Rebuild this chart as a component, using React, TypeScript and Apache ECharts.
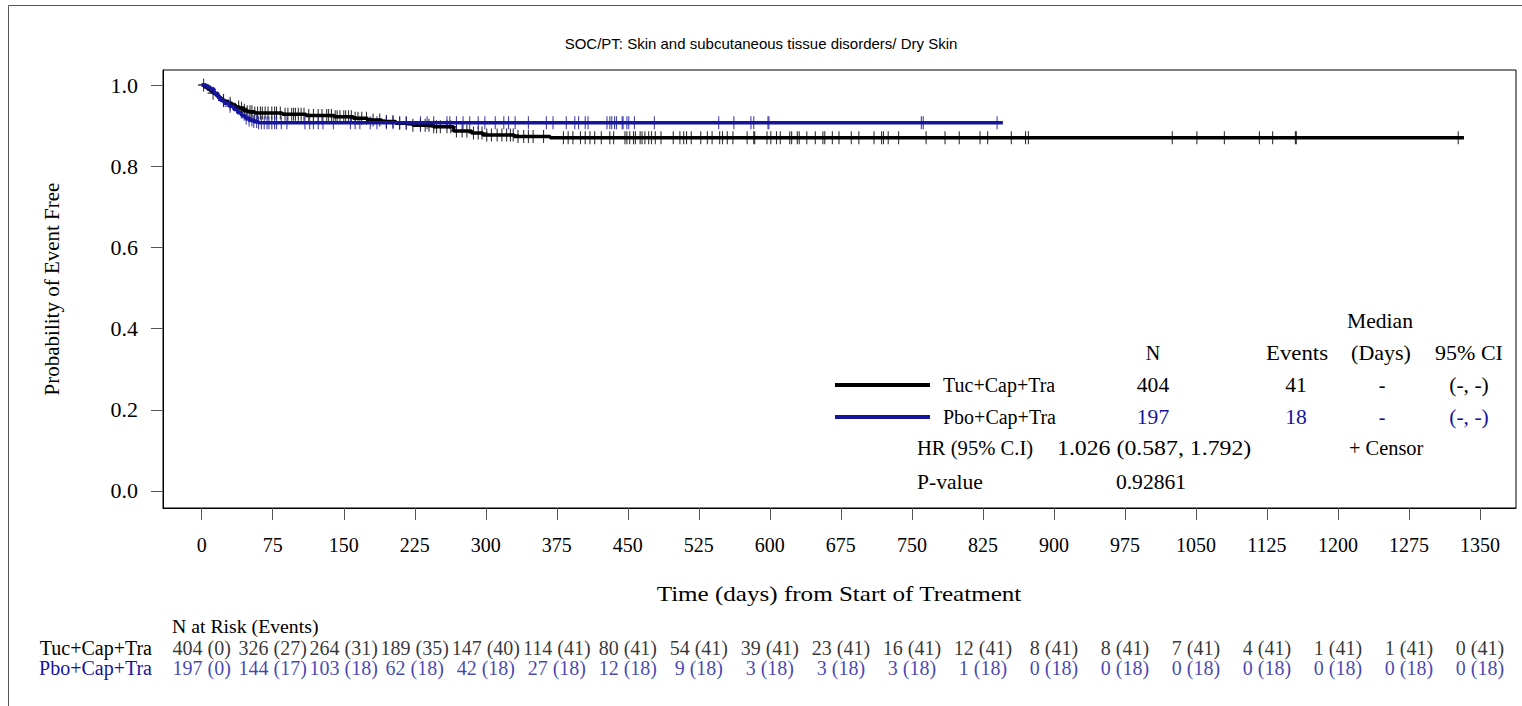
import React, { useEffect, useRef } from "react";
import * as echarts from "echarts";

const titleText = "SOC/PT: Skin and subcutaneous tissue disorders/ Dry Skin";
const groups = ["Tuc+Cap+Tra", "Pbo+Cap+Tra"];
const groupColors = ["#000000", "#14149c"];

const xTicks = [0, 75, 150, 225, 300, 375, 450, 525, 600, 675, 750, 825, 900, 975, 1050, 1125, 1200, 1275, 1350];
const yTicks = [0, 0.2, 0.4, 0.6, 0.8, 1.0];

// Tuc+Cap+Tra Kaplan-Meier steps (time of drop, survival after drop)
const tucTimes = [0, 3, 6, 9, 12, 15, 18, 21, 25, 28, 32, 36, 40, 44, 48, 56, 85, 110, 140, 160, 175, 190, 205, 223, 245, 266, 285, 297, 330, 368];
const tucSurv = [1.0, 0.995, 0.99, 0.985, 0.98, 0.975, 0.968, 0.962, 0.958, 0.955, 0.95, 0.946, 0.943, 0.938, 0.934, 0.931, 0.928, 0.925, 0.922, 0.918, 0.914, 0.91, 0.906, 0.901, 0.897, 0.887, 0.882, 0.877, 0.873, 0.87];
const tucEnd = 1333;
const tucCensor = [2, 12, 23, 30, 39, 42, 45, 48, 51, 53, 56, 59, 62, 64, 67, 70, 74, 77, 79, 83, 88, 91, 95, 97, 99, 102, 105, 108, 113, 118, 123, 127, 132, 134, 137, 141, 143, 146, 150, 152, 155, 158, 162, 165, 169, 174, 181, 188, 195, 202, 209, 216, 223, 231, 236, 240, 245, 248, 252, 259, 263, 269, 275, 280, 287, 292, 296, 301, 306, 312, 317, 322, 326, 329, 334, 340, 345, 350, 361, 382, 387, 392, 400, 405, 410, 415, 422, 431, 435, 447, 449, 452, 456, 458, 463, 465, 468, 472, 475, 479, 485, 498, 505, 509, 512, 517, 527, 534, 539, 547, 550, 555, 561, 576, 583, 584, 597, 601, 607, 611, 621, 623, 629, 631, 639, 648, 656, 658, 666, 673, 686, 694, 710, 718, 720, 725, 736, 765, 785, 800, 822, 830, 855, 870, 873, 1025, 1051, 1080, 1117, 1131, 1155, 1156, 1327];

// Pbo+Cap+Tra Kaplan-Meier steps
const pboTimes = [0, 5, 9, 13, 17, 20, 24, 29, 34, 38, 42, 46, 50, 55, 60];
const pboSurv = [1.0, 0.995, 0.99, 0.98, 0.97, 0.962, 0.955, 0.948, 0.94, 0.932, 0.925, 0.919, 0.914, 0.91, 0.907];
const pboEnd = 846;
const pboCensor = [23, 30, 47, 50, 53, 55, 58, 60, 63, 66, 69, 71, 74, 77, 79, 84, 90, 109, 114, 118, 123, 128, 139, 157, 162, 167, 178, 185, 195, 202, 209, 216, 231, 238, 245, 259, 262, 269, 276, 283, 292, 299, 310, 319, 324, 331, 345, 364, 371, 385, 394, 398, 405, 408, 428, 431, 433, 436, 438, 444, 445, 449, 451, 457, 478, 546, 562, 580, 583, 598, 599, 760, 762, 840];

// Number at risk (events) at each x tick
const tucAtRisk = [404, 326, 264, 189, 147, 114, 80, 54, 39, 23, 16, 12, 8, 8, 7, 4, 1, 1, 0];
const tucAtRiskEvents = [0, 27, 31, 35, 40, 41, 41, 41, 41, 41, 41, 41, 41, 41, 41, 41, 41, 41, 41];
const pboAtRisk = [197, 144, 103, 62, 42, 27, 12, 9, 3, 3, 3, 1, 0, 0, 0, 0, 0, 0, 0];
const pboAtRiskEvents = [0, 17, 18, 18, 18, 18, 18, 18, 18, 18, 18, 18, 18, 18, 18, 18, 18, 18, 18];

// Summary table
const legendN = ["404", "197"];
const legendEvents = ["41", "18"];
const legendMedian = ["-", "-"];
const legendCI = ["(-, -)", "(-, -)"];
const hrValue = "1.026 (0.587, 1.792)";
const pValue = "0.92861";

const SERIF = "'Liberation Serif', 'Times New Roman', Times, serif";
const SANS = "'Liberation Sans', Arial, Helvetica, sans-serif";

function survAt(times: number[], surv: number[], t: number) {
  let s = surv[0];
  for (let i = 0; i < times.length; i++) {
    if (times[i] <= t) s = surv[i];
  }
  return s;
}

function kmLine(times: number[], surv: number[], end: number) {
  const d = times.map((t, i) => [t, surv[i]]);
  d.push([end, surv[surv.length - 1]]);
  return d;
}

const PLUS = "path://M45,0H55V45H100V55H55V100H45V55H0V45H45Z";

export default function App() {
  const ref = useRef<HTMLDivElement>(null);
  useEffect(() => {
    if (!ref.current) return;
    const chart = echarts.init(ref.current, null, { renderer: "svg" });

    const gridLeft = 163;
    const gridTop = 70;
    const gridW = 1353;
    const gridH = 438;
    const xMin = -40.9;
    const xMax = 1388;

    const txt = (
      text: string,
      x: number,
      y: number,
      align: string,
      color = "#000",
      size = 20,
      extra: any = {}
    ) => ({
      type: "text",
      x,
      y,
      silent: true,
      style: {
        text,
        fill: color,
        font: `${size}px ${SERIF}`,
        align,
        verticalAlign: "middle",
      },
      ...extra,
    });

    const rowY = [385, 417];
    const graphics: any[] = [
      {
        type: "rect",
        silent: true,
        shape: { x: 8.5, y: 5.5, width: 1530, height: 800 },
        style: { fill: "none", stroke: "#555", lineWidth: 1 },
      },
      txt("Probability of Event Free", 52, 289, "center", "#000", 21, { rotation: Math.PI / 2 }),
      txt("Time (days) from Start of Treatment", 839, 594, "center", "#000", 22, { scaleX: 1.14 }),
      txt("N at Risk (Events)", 172, 627, "left", "#000", 19, { scaleX: 1.04 }),
      txt("Median", 1380, 321, "center", "#000", 20, { scaleX: 1.08 }),
      txt("N", 1153, 353, "center"),
      txt("Events", 1297, 353, "center", "#000", 20, { scaleX: 1.14 }),
      txt("(Days)", 1381, 353, "center", "#000", 20, { scaleX: 1.1 }),
      txt("95% CI", 1469, 353, "center", "#000", 20, { scaleX: 1.1 }),
      txt("HR (95% C.I)", 917, 448, "left", "#000", 20, { scaleX: 1.03 }),
      txt(hrValue, 1057, 448, "left", "#000", 20, { scaleX: 1.19 }),
      txt("+ Censor", 1349, 448, "left", "#000", 20, { scaleX: 1.02 }),
      txt("P-value", 917, 482, "left", "#000", 20, { scaleX: 1.08 }),
      txt(pValue, 1151, 482, "center", "#000", 20, { scaleX: 1.08 }),
    ];
    groups.forEach((g, i) => {
      graphics.push({
        type: "line",
        silent: true,
        shape: { x1: 835, y1: rowY[i], x2: 930, y2: rowY[i] },
        style: { stroke: groupColors[i], lineWidth: 4 },
      });
      graphics.push(txt(g, 943, rowY[i], "left", "#000"));
      graphics.push(txt(legendN[i], 1153, rowY[i], "center", groupColors[i], 20, { scaleX: 1.08 }));
      graphics.push(txt(legendEvents[i], 1296, rowY[i], "center", groupColors[i], 20, { scaleX: 1.08 }));
      graphics.push(txt(legendMedian[i], 1382, rowY[i], "center", groupColors[i]));
      graphics.push(txt(legendCI[i], 1469, rowY[i], "center", groupColors[i], 20, { scaleX: 1.08 }));
    });

    const atRiskLabel = (counts: number[], events: number[]) => (p: any) =>
      `${counts[p.dataIndex]} (${events[p.dataIndex]})`;

    const option: any = {
      animation: false,
      backgroundColor: "#fff",
      title: {
        text: titleText,
        left: "center",
        top: 31,
        textStyle: { fontFamily: SANS, fontSize: 15, fontWeight: "normal", color: "#000" },
      },
      grid: [
        {
          left: gridLeft,
          top: gridTop,
          width: gridW,
          height: gridH,
          show: true,
          borderColor: "#000",
          borderWidth: 1,
          backgroundColor: "transparent",
        },
        { left: gridLeft, top: 638, width: gridW, height: 40 },
      ],
      xAxis: [
        {
          type: "value",
          gridIndex: 0,
          min: xMin,
          max: xMax,
          splitLine: { show: false },
          axisLine: { show: true, onZero: false, lineStyle: { color: "#000", width: 1 } },
          axisTick: { show: true, length: 12, customValues: xTicks, lineStyle: { color: "#555" } },
          axisLabel: {
            customValues: xTicks,
            margin: 27,
            fontSize: 20,
            fontFamily: SERIF,
            color: "#000",
            formatter: (v: number) => String(v),
          },
        },
        { type: "value", gridIndex: 1, min: xMin, max: xMax, show: false },
      ],
      yAxis: [
        {
          type: "value",
          gridIndex: 0,
          min: -0.0419,
          max: 1.037,
          splitLine: { show: false },
          axisLine: { show: true, onZero: false, lineStyle: { color: "#000", width: 1 } },
          axisTick: { show: true, length: 12, customValues: yTicks, lineStyle: { color: "#555" } },
          axisLabel: {
            customValues: yTicks,
            margin: 25,
            fontSize: 22,
            fontFamily: SERIF,
            color: "#000",
            formatter: (v: number) => v.toFixed(1),
          },
        },
        {
          type: "category",
          gridIndex: 1,
          data: groups,
          inverse: true,
          axisLine: { show: false },
          axisTick: { show: false },
          splitLine: { show: false },
          axisLabel: {
            interval: 0,
            margin: 11,
            fontSize: 20,
            fontFamily: SERIF,
            color: (_v: any, i: number) => groupColors[i],
          },
        },
      ],
      series: [
        {
          type: "line",
          name: groups[0],
          xAxisIndex: 0,
          yAxisIndex: 0,
          step: "end",
          showSymbol: false,
          silent: true,
          lineStyle: { color: groupColors[0], width: 3.5 },
          data: kmLine(tucTimes, tucSurv, tucEnd),
        },
        {
          type: "scatter",
          xAxisIndex: 0,
          yAxisIndex: 0,
          silent: true,
          symbol: PLUS,
          symbolSize: [11, 13],
          itemStyle: { color: groupColors[0] },
          data: tucCensor.map((t) => [t, survAt(tucTimes, tucSurv, t)]),
        },
        {
          type: "line",
          name: groups[1],
          xAxisIndex: 0,
          yAxisIndex: 0,
          step: "end",
          showSymbol: false,
          silent: true,
          lineStyle: { color: groupColors[1], width: 3.5 },
          data: kmLine(pboTimes, pboSurv, pboEnd),
        },
        {
          type: "scatter",
          xAxisIndex: 0,
          yAxisIndex: 0,
          silent: true,
          symbol: PLUS,
          symbolSize: [11, 13],
          itemStyle: { color: groupColors[1] },
          data: pboCensor.map((t) => [t, survAt(pboTimes, pboSurv, t)]),
        },
        {
          type: "scatter",
          xAxisIndex: 1,
          yAxisIndex: 1,
          silent: true,
          symbolSize: 2,
          itemStyle: { color: "rgba(0,0,0,0)" },
          labelLayout: { hideOverlap: false },
          label: {
            show: true,
            position: "inside",
            formatter: atRiskLabel(tucAtRisk, tucAtRiskEvents),
            fontSize: 20,
            fontFamily: SERIF,
            color: groupColors[0],
          },
          data: xTicks.map((t) => [t, 0]),
        },
        {
          type: "scatter",
          xAxisIndex: 1,
          yAxisIndex: 1,
          silent: true,
          symbolSize: 2,
          itemStyle: { color: "rgba(0,0,0,0)" },
          labelLayout: { hideOverlap: false },
          label: {
            show: true,
            position: "inside",
            formatter: atRiskLabel(pboAtRisk, pboAtRiskEvents),
            fontSize: 20,
            fontFamily: SERIF,
            color: groupColors[1],
          },
          data: xTicks.map((t) => [t, 1]),
        },
      ],
      graphic: graphics,
    };

    chart.setOption(option);
    return () => chart.dispose();
  }, []);

  return (
    <div
      ref={ref}
      style={{ position: "absolute", left: 0, top: 0, width: 1522, height: 706, background: "#fff" }}
    />
  );
}
